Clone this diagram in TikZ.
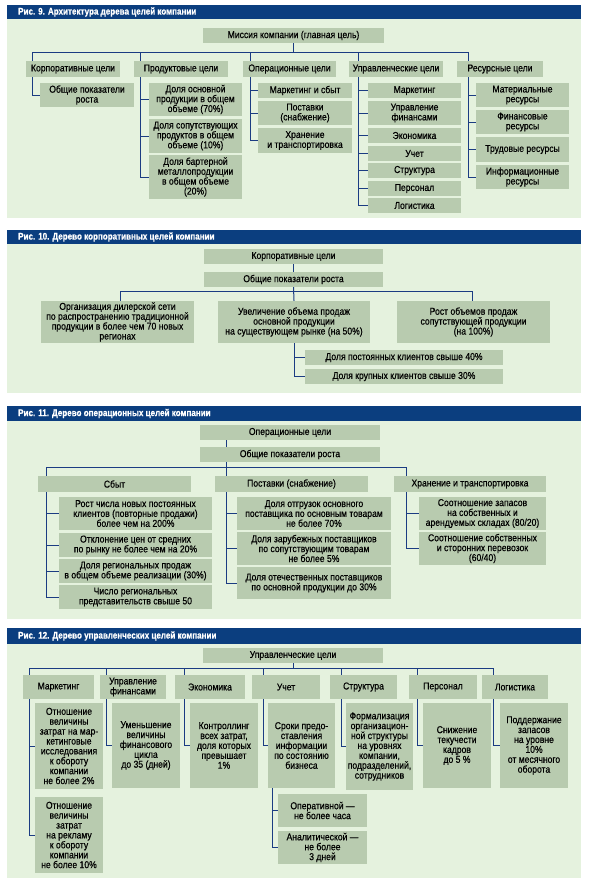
\documentclass[tikz,border=0pt]{standalone}
\usepackage{fontspec}
\setmainfont{Liberation Sans}[FakeStretch=0.86,FakeBold=0.5]
\newfontfamily\titlefont{Liberation Sans}[FakeStretch=0.84,BoldFeatures={FakeBold=0.6}]
\definecolor{barblue}{HTML}{0B3E7F}
\definecolor{panelgreen}{HTML}{E5F2DE}
\definecolor{boxgreen}{HTML}{B8CBAF}
\definecolor{lineblue}{HTML}{1B3C82}
\pgfdeclarelayer{panel}
\pgfdeclarelayer{lines}
\pgfsetlayers{panel,lines,main}
\tikzset{
  bx/.style={fill=boxgreen, inner sep=0pt, align=center,
    font=\fontsize{10}{9.9}\selectfont, text=black},
  ln/.style={draw=lineblue, line width=1pt},
  ttl/.style={anchor=west, text=white, inner sep=0pt,
    font=\titlefont\bfseries\fontsize{9.6}{10}\selectfont}
}
\newcommand\bx[6]{%
  \pgfmathsetmacro\bxw{#4-#2}%
  \pgfmathsetmacro\bxh{#5-#3}%
  \pgfmathsetmacro\bxcx{(#2+#4)/2}%
  \pgfmathsetmacro\bxcy{(#3+#5)/2}%
  \node[bx, minimum width=\bxw pt, minimum height=\bxh pt] (#1) at (\bxcx,\bxcy) {#6};}
\newcommand\panel[5]{%
  \begin{pgfonlayer}{panel}
    \fill[barblue] (7,#2) rectangle (581,#3);
    \fill[panelgreen] (7,#3) rectangle (581,#4);
  \end{pgfonlayer}
  \node[ttl] (#1) at (18,{(#2+#3)/2}) {#5};}
\begin{document}
\begin{tikzpicture}[x=1pt,y=-1pt]
\useasboundingbox (0,0) rectangle (589,887);
% ---------------- Panel 9
\panel{t9}{5}{19}{218}{Рис. 9. Архитектура дерева целей компании}
\bx{r9}{203}{28}{384}{43}{Миссия компании (главная цель)}
\bx{l9a}{26}{61}{120}{77}{Корпоративные цели}
\bx{l9b}{134}{61}{228}{77}{Продуктовые цели}
\bx{l9c}{243}{61}{336}{77}{Операционные цели}
\bx{l9d}{349}{61}{443}{77}{Управленческие цели}
\bx{l9e}{457}{61}{543}{77}{Ресурсные цели}
\bx{a1}{40}{83}{134}{107}{Общие показатели\\роста}
\bx{b1}{149}{83}{242}{116}{Доля основной\\продукции в общем\\объеме (70\%)}
\bx{b2}{149}{119}{242}{153}{Доля сопутствующих\\продуктов в общем\\объеме (10\%)}
\bx{b3}{149}{155}{242}{199}{Доля бартерной\\металлопродукции\\в общем объеме\\(20\%)}
\bx{c1}{258}{83}{352}{98}{Маркетинг и сбыт}
\bx{c2}{258}{101}{352}{125}{Поставки\\(снабжение)}
\bx{c3}{258}{128}{352}{153}{Хранение\\и транспортировка}
\bx{d1}{368}{83}{461}{98}{Маркетинг}
\bx{d2}{368}{101}{461}{125}{Управление\\финансами}
\bx{d3}{368}{128}{461}{143}{Экономика}
\bx{d4}{368}{146}{461}{161}{Учет}
\bx{d5}{368}{163}{461}{178}{Структура}
\bx{d6}{368}{181}{461}{196}{Персонал}
\bx{d7}{368}{198}{461}{213}{Логистика}
\bx{e1}{476}{83}{569}{107}{Материальные\\ресурсы}
\bx{e2}{476}{110}{569}{134}{Финансовые\\ресурсы}
\bx{e3}{476}{137}{569}{162}{Трудовые ресурсы}
\bx{e4}{476}{165}{569}{189}{Информационные\\ресурсы}
\coordinate (k9a) at (32,52);
\coordinate (k9b) at (140,52);
\coordinate (k9c) at (250,52);
\coordinate (k9d) at (358,52);
\coordinate (k9e) at (468,52);
\begin{pgfonlayer}{lines}
\draw[ln] (k9a) -- (k9e);
\draw[ln] (r9.south) -- (r9.south |- k9a);
\draw[ln] (k9a) |- (a1.west);
\draw[ln] (k9b) |- (b3.west);
\draw[ln] (b1.west) -- (b1.west -| k9b);
\draw[ln] (b2.west) -- (b2.west -| k9b);
\draw[ln] (k9c) |- (c3.west);
\draw[ln] (c1.west) -- (c1.west -| k9c);
\draw[ln] (c2.west) -- (c2.west -| k9c);
\draw[ln] (k9d) |- (d7.west);
\foreach \n in {d1,d2,d3,d4,d5,d6} \draw[ln] (\n.west) -- (\n.west -| k9d);
\draw[ln] (k9e) |- (e4.west);
\foreach \n in {e1,e2,e3} \draw[ln] (\n.west) -- (\n.west -| k9e);
\end{pgfonlayer}
% ---------------- Panel 10
\panel{t10}{230}{244}{393}{Рис. 10. Дерево корпоративных целей компании}
\bx{r10}{204}{249}{383}{264}{Корпоративные цели}
\bx{s10}{204}{272}{383}{287}{Общие показатели роста}
\bx{f1}{41}{301}{194}{343}{Организация дилерской сети\\по распространению традиционной\\продукции в более чем 70 новых\\регионах}
\bx{f2}{218}{301}{370}{343}{Увеличение объема продаж\\основной продукции\\на существующем рынке (на 50\%)}
\bx{f3}{397}{301}{550}{343}{Рост объемов продаж\\сопутствующей продукции\\(на 100\%)}
\bx{g1}{305}{350}{503}{365}{Доля постоянных клиентов свыше 40\%}
\bx{g2}{305}{369}{503}{384}{Доля крупных клиентов свыше 30\%}
\coordinate (k10a) at (120,291);
\coordinate (k10c) at (472,291);
\begin{pgfonlayer}{lines}
\draw[ln] (r10.south) -- (s10.north);
\draw[ln] (k10a) -- (k10c);
\draw[ln] (s10.south) -- (f2.north);
\draw[ln] (k10a) -- (k10a |- f1.north);
\draw[ln] (k10c) -- (k10c |- f3.north);
\draw[ln] (f2.south) |- (g2.west);
\draw[ln] (g1.west) -- (g1.west -| f2.south);
\end{pgfonlayer}
% ---------------- Panel 11
\panel{t11}{406}{421}{619}{Рис. 11. Дерево операционных целей компании}
\bx{r11}{200}{425}{380}{440}{Операционные цели}
\bx{s11}{200}{447}{380}{462}{Общие показатели роста}
\bx{h1}{38}{476}{191}{492}{Сбыт}
\bx{h2}{215}{476}{368}{492}{Поставки (снабжение)}
\bx{h3}{394}{476}{546}{492}{Хранение и транспортировка}
\bx{i1}{59}{497}{212}{530}{Рост числа новых постоянных\\клиентов (повторные продажи)\\более чем на 200\%}
\bx{i2}{59}{533}{212}{557}{Отклонение цен от средних\\по рынку не более чем на 20\%}
\bx{i3}{59}{559}{212}{583}{Доля региональных продаж\\в общем объеме реализации (30\%)}
\bx{i4}{59}{585}{212}{609}{Число региональных\\представительств свыше 50}
\bx{j1}{237}{497}{391}{530}{Доля отгрузок основного\\поставщика по основным товарам\\не более 70\%}
\bx{j2}{237}{532}{391}{565}{Доля зарубежных поставщиков\\по сопутствующим товарам\\не более 5\%}
\bx{j3}{237}{567}{391}{599}{Доля отечественных поставщиков\\по основной продукции до 30\%}
\bx{m1}{419}{497}{546}{530}{Соотношение запасов\\на собственных и\\арендуемых складах (80/20)}
\bx{m2}{419}{532}{546}{565}{Соотношение собственных\\и сторонних перевозок\\(60/40)}
\coordinate (k11a) at (46,467);
\coordinate (k11b) at (226,467);
\coordinate (k11c) at (406,467);
\begin{pgfonlayer}{lines}
\draw[ln] (k11a) -- (k11c);
\draw[ln] (k11b |- r11.south) -- (k11b |- s11.north);
\draw[ln] (k11b |- s11.south) -- (k11b);
\draw[ln] (k11a) |- (i4.west);
\foreach \n in {i1,i2,i3} \draw[ln] (\n.west) -- (\n.west -| k11a);
\draw[ln] (k11b) |- (j3.west);
\foreach \n in {j1,j2} \draw[ln] (\n.west) -- (\n.west -| k11b);
\draw[ln] (k11c) |- (m2.west);
\draw[ln] (m1.west) -- (m1.west -| k11c);
\end{pgfonlayer}
% ---------------- Panel 12
\panel{t12}{628}{644}{878}{Рис. 12. Дерево управленческих целей компании}
\bx{r12}{203}{648}{383}{663}{Управленческие цели}
\bx{n1}{23}{675}{94}{699}{Маркетинг}
\bx{n2}{100}{675}{166}{699}{Управление\\финансами}
\bx{n3}{175}{675}{245}{699}{Экономика}
\bx{n4}{252}{675}{320}{699}{Учет}
\bx{n5}{330}{675}{397}{699}{Структура}
\bx{n6}{409}{675}{477}{699}{Персонал}
\bx{n7}{482}{675}{548}{699}{Логистика}
\bx{o1}{35}{703}{103}{789}{Отношение\\величины\\затрат на мар-\\кетинговые\\исследования\\к обороту\\компании\\не более 2\%}
\bx{o2}{35}{797}{103}{873}{Отношение\\величины\\затрат\\на рекламу\\к обороту\\компании\\не более 10\%}
\bx{o3}{112}{703}{180}{788}{Уменьшение\\величины\\финансового\\цикла\\до 35 (дней)}
\bx{o4}{190}{703}{258}{788}{Контроллинг\\всех затрат,\\доля которых\\превышает\\1\%}
\bx{o5}{268}{703}{335}{788}{Сроки предо-\\ставления\\информации\\по состоянию\\бизнеса}
\bx{o6}{346}{703}{413}{790}{Формализация\\организацион-\\ной структуры\\на уровнях\\компании,\\подразделений,\\сотрудников}
\bx{o7}{423}{703}{491}{788}{Снижение\\текучести\\кадров\\до 5 \%}
\bx{o8}{500}{703}{568}{788}{Поддержание\\запасов\\на уровне\\10\%\\от месячного\\оборота}
\bx{q1}{278}{794}{367}{827}{Оперативной —\\не более часа}
\bx{q2}{278}{831}{367}{864}{Аналитической —\\не более\\3 дней}
\coordinate (k12a) at (29,668);
\coordinate (k12b) at (106,668);
\coordinate (k12c) at (184,668);
\coordinate (k12d) at (263,668);
\coordinate (k12e) at (341,668);
\coordinate (k12f) at (417,668);
\coordinate (k12g) at (493,668);
\coordinate (k12u) at (272,800);
\begin{pgfonlayer}{lines}
\draw[ln] (k12a) -- (k12g);
\draw[ln] (r12.south) -- (r12.south |- k12a);
\draw[ln] (k12a) |- (o2.west);
\draw[ln] (o1.west) -- (o1.west -| k12a);
\draw[ln] (k12b) |- (o3.west);
\draw[ln] (k12c) |- (o4.west);
\draw[ln] (k12d) |- (o5.west);
\draw[ln] (k12e) |- (o6.west);
\draw[ln] (k12f) |- (o7.west);
\draw[ln] (k12g) |- (o8.west);
\draw[ln] (o5.south -| k12u) |- (q2.west);
\draw[ln] (q1.west) -- (q1.west -| k12u);
\end{pgfonlayer}
\end{tikzpicture}
\end{document}
